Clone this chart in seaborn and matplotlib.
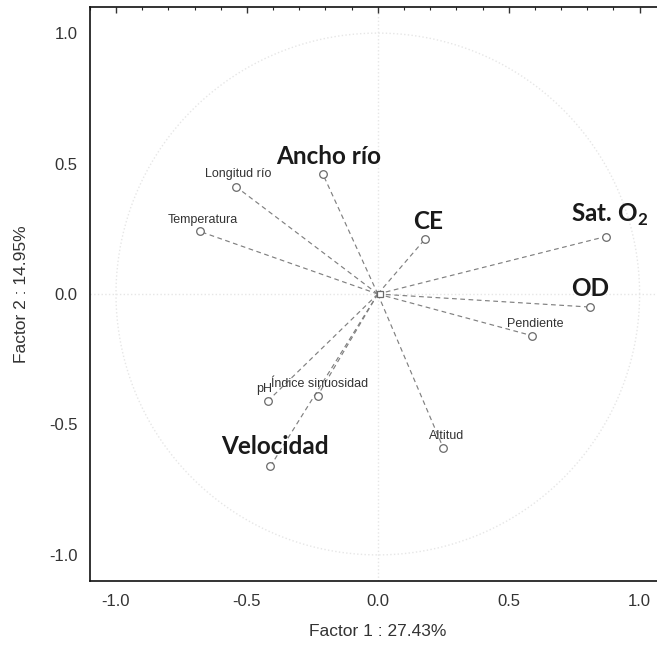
import numpy as np
import pandas as pd
import matplotlib
matplotlib.use("Agg")
import matplotlib.pyplot as plt
import seaborn as sns

# ---- data ----
variables = ["Ancho río", "Longitud río", "Temperatura", "CE", "Sat. O2", "OD",
             "Pendiente", "Altitud", "Índice sinuosidad", "pH", "Velocidad"]
factor1 = [-0.21, -0.54, -0.68, 0.18, 0.87, 0.81, 0.59, 0.25, -0.23, -0.42, -0.41]
factor2 = [0.46, 0.41, 0.24, 0.21, 0.22, -0.05, -0.16, -0.59, -0.39, -0.41, -0.66]
x_ticks = [-1.0, -0.5, 0.0, 0.5, 1.0]
y_ticks = [-1.0, -0.5, 0.0, 0.5, 1.0]
x_label = "Factor 1 : 27.43%"
y_label = "Factor 2 : 14.95%"

# ---- styling ----
big = {"Ancho río", "CE", "Sat. O2", "OD", "Velocidad"}
display = {"Sat. O2": r"Sat. O$_\mathregular{2}$"}
# label offsets in pixels (dx, dy up)
offsets = {"Ancho río": (6, 17), "Longitud río": (2, 13), "Temperatura": (3, 11),
           "CE": (3, 18), "Sat. O2": (4, 22), "OD": (0, 19), "Pendiente": (3, 12),
           "Altitud": (3, 12), "Índice sinuosidad": (2, 12), "pH": (-4, 12),
           "Velocidad": (4, 20)}

sns.set_style("white")
plt.rcParams["font.family"] = ["Liberation Sans", "DejaVu Sans"]

df = pd.DataFrame({"var": variables, "f1": factor1, "f2": factor2})

fig = plt.figure(figsize=(6.57, 6.48), dpi=100)
ax = fig.add_axes([89.8 / 657, 67 / 648, 576 / 657, 574 / 648])

# faint unit circle and axis lines
t = np.linspace(0, 2 * np.pi, 400)
ax.plot(np.cos(t), np.sin(t), ls=":", color="#e6e6e6", lw=1.0, zorder=0)
ax.axhline(0, ls=":", color="#e6e6e6", lw=1.0, zorder=0)
ax.axvline(0, ls=":", color="#e6e6e6", lw=1.0, zorder=0)

# vectors from origin
for _, r in df.iterrows():
    ax.plot([0, r.f1], [0, r.f2], ls=(0, (4, 3)), color="#808080", lw=0.85, zorder=1)

sns.scatterplot(data=df, x="f1", y="f2", ax=ax, s=30, marker="o",
                facecolor="white", edgecolor="#6a6a6a", linewidth=0.9, zorder=3,
                legend=False)
ax.plot([0.01], [0.0], marker="s", ms=4, mfc="white", mec="#6a6a6a", mew=0.9, zorder=3)

for _, r in df.iterrows():
    dx, dy = offsets[r["var"]]
    txt = display.get(r["var"], r["var"])
    if r["var"] in big:
        kw = dict(fontsize=17.5, fontweight="bold", family=["Lato", "DejaVu Sans"], color="#1a1a1a")
    else:
        kw = dict(fontsize=9, family=["Liberation Sans", "DejaVu Sans"], color="#333333")
    ax.annotate(txt, (r.f1, r.f2), xytext=(dx, dy), textcoords="offset pixels",
                ha="center", va="center", zorder=4, **kw)

ax.set_xlim(-1.1, 1.1)
ax.set_ylim(-1.1, 1.1)
ax.set_xticks(x_ticks)
ax.set_yticks(y_ticks)
ax.set_xticklabels([f"{v:.1f}" for v in x_ticks])
ax.set_yticklabels([f"{v:.1f}" for v in y_ticks])
ax.xaxis.set_minor_locator(matplotlib.ticker.MultipleLocator(0.1))
ax.yaxis.set_minor_locator(matplotlib.ticker.MultipleLocator(0.1))
ax.tick_params(which="major", direction="in", length=4, width=1, top=True, right=False,
               labelsize=12, colors="#333333", pad=9)
ax.tick_params(which="minor", direction="in", length=2, width=0.8, top=True, right=False)
for s in ["left", "bottom", "top"]:
    ax.spines[s].set_color("#111111")
    ax.spines[s].set_linewidth(1.2)
ax.spines["right"].set_visible(False)

ax.set_xlabel(x_label, fontsize=12.5, color="#333333", labelpad=11)
ax.set_ylabel(y_label, fontsize=12.5, color="#333333", labelpad=14)

fig.savefig("out.png", dpi=100)
